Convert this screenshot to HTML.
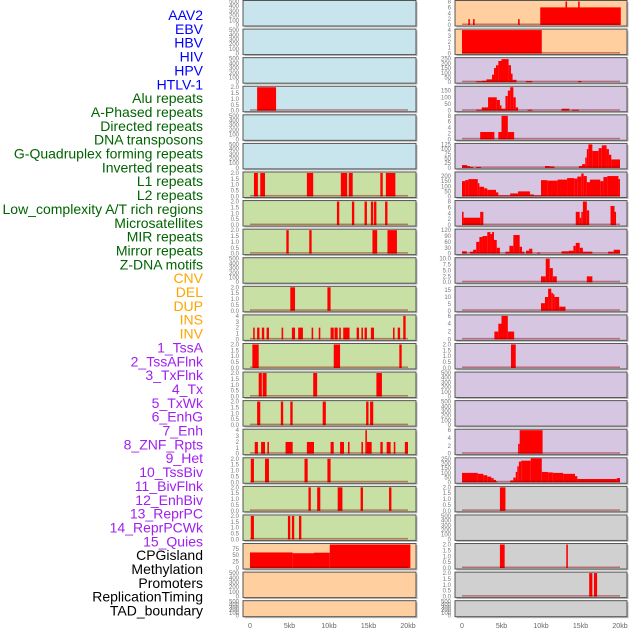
<!DOCTYPE html>
<html><head><meta charset="utf-8"><style>
html,body{margin:0;padding:0;background:#fff;width:630px;height:630px;overflow:hidden}
svg{display:block;font-family:"Liberation Sans",sans-serif}
</style></head><body>
<svg id="chart" width="630" height="630" viewBox="0 0 630 630"></svg>
<script>
const labels=["AAV2","EBV","HBV","HIV","HPV","HTLV-1","Alu repeats","A-Phased repeats","Directed repeats","DNA transposons","G-Quadruplex forming repeats","Inverted repeats","L1 repeats","L2 repeats","Low_complexity A/T rich regions","Microsatellites","MIR repeats","Mirror repeats","Z-DNA motifs","CNV","DEL","DUP","INS","INV","1_TssA","2_TssAFlnk","3_TxFlnk","4_Tx","5_TxWk","6_EnhG","7_Enh","8_ZNF_Rpts","9_Het","10_TssBiv","11_BivFlnk","12_EnhBiv","13_ReprPC","14_ReprPCWk","15_Quies","CPGisland","Methylation","Promoters","ReplicationTiming","TAD_boundary"];
const labelGroups=[0,0,0,0,0,0,1,1,1,1,1,1,1,1,1,1,1,1,1,2,2,2,2,2,3,3,3,3,3,3,3,3,3,3,3,3,3,3,3,4,4,4,4,4];
const groupColors=["#0000ff","#006400","#ffa500","#a020f0","#000000"];
const xTickValues=[0,5,10,15,20];
const xTickLabels=["0","5kb","10kb","15kb","20kb"];
const T500=[0,100,200,300,400,500], T2=[0,0.5,1,1.5,2], T4=[0,1,2,3,4];
const T2L=["0.0","0.5","1.0","1.5","2.0"];
// Left column
const leftBg=["lb","lb","lb","lb","lb","lb","g","g","g","g","g","g","g","g","g","g","g","g","g","o","o","o"];
const leftYMax=[500,500,500,2,500,500,2,2,2,500,2,4,2,2,2,4,2,2,2,92,500,500];
const leftTicks=[T500,T500,T500,T2,T500,T500,T2,T2,T2,T500,T2,T4,T2,T2,T2,T4,T2,T2,T2,[0,25,50,75],T500,T500];
const leftSegs=[[],[],[],[[0.9,3.3,2]],[],[],
[[0.5,1.0,2],[1.3,1.9,2],[7.2,8.0,2],[11.5,12.3,2],[12.5,13.0,2],[16.5,16.8,2],[17.2,18.4,2]],
[[11.0,11.3,2],[12.9,13.2,2],[14.5,14.8,2],[15.3,15.6,2],[15.7,16.0,2],[17.1,17.4,2]],
[[4.6,4.9,2],[7.5,7.8,2],[15.5,16.1,2],[17.4,18.6,2]],
[],
[[5.1,5.7,2],[9.8,10.2,2]],
[[0.4,0.6,2],[0.9,1.2,2],[1.5,1.8,2],[2.1,2.4,2],[4.0,4.2,2],[5.3,5.7,2],[6.1,6.7,2],[7.8,8.0,2],[8.7,8.9,2],[10.2,10.6,2],[10.7,11.1,2],[11.3,11.5,2],[11.8,12.6,2],[13.5,13.8,2],[14.1,14.3,2],[14.5,14.8,2],[15.3,15.7,2],[18.1,18.3,2],[18.7,19.0,2],[19.4,19.7,4]],
[[0.3,1.1,2],[10.6,11.4,2],[18.9,19.2,2]],
[[1.1,1.5,2],[1.6,2.1,2],[8.0,8.5,2],[16.0,16.7,2]],
[[0.9,1.3,2],[3.9,4.2,2],[5.1,5.4,2],[9.2,9.6,2],[14.7,15.0,2],[15.2,15.6,2]],
[[0.6,1.0,2],[1.4,1.9,2],[2.2,2.4,2],[4.5,5.4,2],[7.2,8.1,2],[10.2,10.6,2],[11.4,11.9,2],[12.4,12.6,2],[14.1,14.3,2],[14.6,14.8,4],[14.8,15.4,2],[16.5,16.8,2],[17.3,17.8,2],[18.2,18.4,2],[19.6,20.0,2]],
[[0.1,0.5,2],[1.9,2.4,2],[6.9,7.3,2],[9.8,10.2,2]],
[[7.4,7.7,2],[8.5,8.9,2],[11.1,11.7,2],[14.0,14.3,2],[17.6,17.9,2]],
[[0.1,0.5,2],[4.8,5.1,2],[5.3,5.6,2],[6.2,6.5,2]],
[[0,5.4,61],[5.4,8.1,58],[8.1,10.1,60],[10.1,20.3,92]],
[],[]];
// Right column
const rightBg=["o","o","p","p","p","p","p","p","p","p","p","p","p","p","p","p","p","gr","gr","gr","gr","gr"];
const rightYMax=[8,4,250,175,8,125,230,8,120,10,17,6,2,500,500,6,250,2,500,2,2,500];
const rightTicks=[[0,2,4,6,8],[0,1,2,3,4],[0,50,100,150,200,250],[0,50,100,150],[0,2,4,6,8],[0,25,50,75,100,125],[0,50,100,150,200],[0,2,4,6,8],[0,30,60,90,120],[0,2.5,5,7.5,10],[0,5,10,15],[0,2,4,6],T2,T500,T500,[0,2,4,6],[0,50,100,150,200,250],T2,T500,T2,T2,T500];
const rightSegs=[
[[0.8,1.0,2],[1.4,1.6,2],[7.1,7.3,2],[9.9,20.1,6],[13.1,13.3,8],[14.7,14.9,8]],
[[0,10.1,4]],
[[1.8,2.5,10],[2.5,3.1,15],[3.1,3.8,30],[3.8,4.05,80],[4.05,4.3,150],[4.3,4.6,180],[4.6,5.0,225],[5.0,5.9,245],[5.9,6.2,180],[6.2,6.4,90],[6.4,6.9,25],[8.1,8.9,12],[14.7,15.1,12]],
[[1.8,2.5,8],[2.5,3.3,25],[3.3,4.4,100],[4.4,4.8,80],[4.8,5.0,40],[5.0,5.5,15],[5.5,5.8,110],[5.8,6.1,150],[6.1,6.5,175],[6.5,6.8,100],[6.8,7.1,25],[8.3,8.9,8],[12.6,13.6,15],[13.9,14.8,8]],
[[2.3,4.1,2.5],[4.6,5.0,2.5],[5.0,5.8,8],[5.8,6.6,2.5]],
[[0,0.65,15],[0.65,1.0,10],[1.0,1.4,5],[1.8,2.4,5],[10.5,11.1,10],[11.1,11.7,8],[14.8,15.2,10],[15.2,15.6,20],[15.6,15.8,55],[15.8,16.0,100],[16.0,16.5,125],[16.5,17.3,90],[17.3,17.7,105],[17.7,18.3,120],[18.3,18.6,100],[18.6,18.9,70],[18.9,20.0,45]],
[[0,0.4,150],[0.4,0.8,160],[0.8,2.0,170],[2.0,2.2,130],[2.2,2.8,95],[2.8,3.2,80],[3.2,4.3,65],[4.3,4.6,40],[4.6,6.1,10],[6.1,7.1,30],[7.1,8.6,50],[8.6,9.1,20],[9.1,10.0,10],[10.0,10.8,160],[10.8,12.1,155],[12.1,13.3,165],[13.3,14.2,180],[14.2,14.6,175],[14.6,15.1,195],[15.1,15.4,225],[15.4,15.8,200],[15.8,16.2,140],[16.2,17.5,165],[17.5,17.9,150],[17.9,18.4,190],[18.4,19.8,200],[19.8,20.0,170]],
[[0,0.2,4.5],[0.2,2.3,2.5],[2.3,2.7,4.5],[14.4,14.9,4.5],[14.9,15.1,2.5],[15.1,15.3,4.5],[15.3,15.8,8],[15.8,16.1,5],[18.8,19.3,6.5],[19.3,19.5,4.5]],
[[0,0.6,12],[1.0,1.4,10],[1.4,1.8,20],[1.8,2.2,60],[2.2,2.6,85],[2.6,3.2,90],[3.2,3.6,110],[3.6,3.8,100],[3.8,4.05,110],[4.05,4.4,70],[4.4,4.8,30],[5.5,6.0,10],[6.0,6.5,40],[6.5,7.3,95],[7.3,7.6,35],[7.6,7.9,10],[8.1,8.5,15],[8.5,8.9,25],[9.5,9.9,5],[12.6,13.5,12],[13.5,14.1,15],[14.1,14.4,40],[14.4,14.9,55],[14.9,15.3,30],[15.3,16.5,10],[18.5,19.2,10],[19.2,20.0,20]],
[[10.0,10.6,2.5],[10.6,11.1,10],[11.1,11.5,6],[11.5,12.0,2.5],[15.8,16.5,2.5]],
[[10.0,10.5,5.5],[10.5,10.9,10],[10.9,11.3,16],[11.3,11.5,13],[11.5,11.7,12],[11.7,12.3,10],[12.3,13.1,3]],
[[4.1,4.6,2],[4.6,5.0,4],[5.0,5.8,6],[5.8,6.6,2]],
[[6.2,6.8,2]],
[],[],
[[7.1,7.3,2.5],[7.3,10.2,6]],
[[0,2.0,100],[2.0,2.7,90],[2.7,3.2,75],[3.2,3.7,60],[3.7,4.0,45],[4.0,4.3,25],[4.3,4.5,8],[6.1,6.5,20],[6.5,6.8,50],[6.8,7.0,110],[7.0,7.2,170],[7.2,7.5,220],[7.5,8.7,230],[8.7,10.1,255],[10.1,10.9,110],[10.9,11.5,105],[11.5,12.8,100],[12.8,14.3,90],[14.3,14.6,65],[14.6,19.6,35],[19.6,20.0,45]],
[[4.8,5.5,2]],
[],
[[4.8,5.4,2],[13.2,13.4,2]],
[[16.1,16.5,2],[16.7,17.1,2]],
[]];
const bgColors={lb:"#c8e4ec",g:"#c8e0a4",o:"#ffcf9f",p:"#d6c6e2",gr:"#d0d0d0"};
const NS="http://www.w3.org/2000/svg";
const svg=document.getElementById("chart");
function mk(tag,attrs,parent){const e=document.createElementNS(NS,tag);for(const k in attrs)e.setAttribute(k,attrs[k]);(parent||svg).appendChild(e);return e;}
const rowStep=28.58, rowH=25.5;
function rowTop(i){return 0.5+i*rowStep;}
function rowHeight(i){return i===21?16:rowH;}
labels.forEach((t,i)=>{
  const el=mk("text",{x:203,y:20+i*13.85,"text-anchor":"end","font-size":"14",fill:groupColors[labelGroups[i]]});
  
  
  el.textContent=t;
});
function drawColumn(frameX,frameW,dataX0,side,bgs,ymax,ticks,segs){
  const xs=kb=>dataX0+kb*7.9;
  for(let i=0;i<22;i++){
    const top=rowTop(i),h=rowHeight(i),bottom=top+h-1;
    const g=mk("g",{});
    
    
    mk("rect",{x:frameX+1.5,y:top+1.5,width:frameW,height:h,fill:"#bbbbbb"},g);
    mk("rect",{x:frameX,y:top,width:frameW,height:h,fill:bgColors[bgs[i]],stroke:"#555",'stroke-width':1},g);
    const ys=v=>bottom-(v/ymax[i])*(h-2);
    if(segs[i].length){
      segs[i].forEach(s=>{
        const r=mk("rect",{x:xs(s[0]),y:ys(s[2]),width:Math.max(1.2,xs(s[1])-xs(s[0])),height:bottom-ys(s[2]),fill:"#ff0000"},g);
        
        
      });
      mk("rect",{x:xs(0),y:bottom-1.5,width:xs(20)-xs(0),height:1.5,fill:"rgba(139,0,0,0.45)"},g);
    }
    const tk=ticks[i];
    tk.forEach(v=>{
      const t=mk("text",{x:frameX-4,y:ys(v)+2,"text-anchor":"end","font-size":"6",fill:"#777"},g);
      
      
      t.textContent=(tk===T2||ymax[i]===2)?T2L[T2.indexOf(v)]:(tk[1]===2.5?v.toFixed(1):String(v));
    });
  }
  xTickValues.forEach((v,j)=>{
    const t=mk("text",{x:xs(v),y:628,"text-anchor":"middle","font-size":"7",fill:"#666"});
    
    
    t.textContent=xTickLabels[j];
  });
}
drawColumn(243,173,250,'left',leftBg,leftYMax,leftTicks,leftSegs);
drawColumn(455,172,462,'right',rightBg,rightYMax,rightTicks,rightSegs);
</script>
</body></html>
